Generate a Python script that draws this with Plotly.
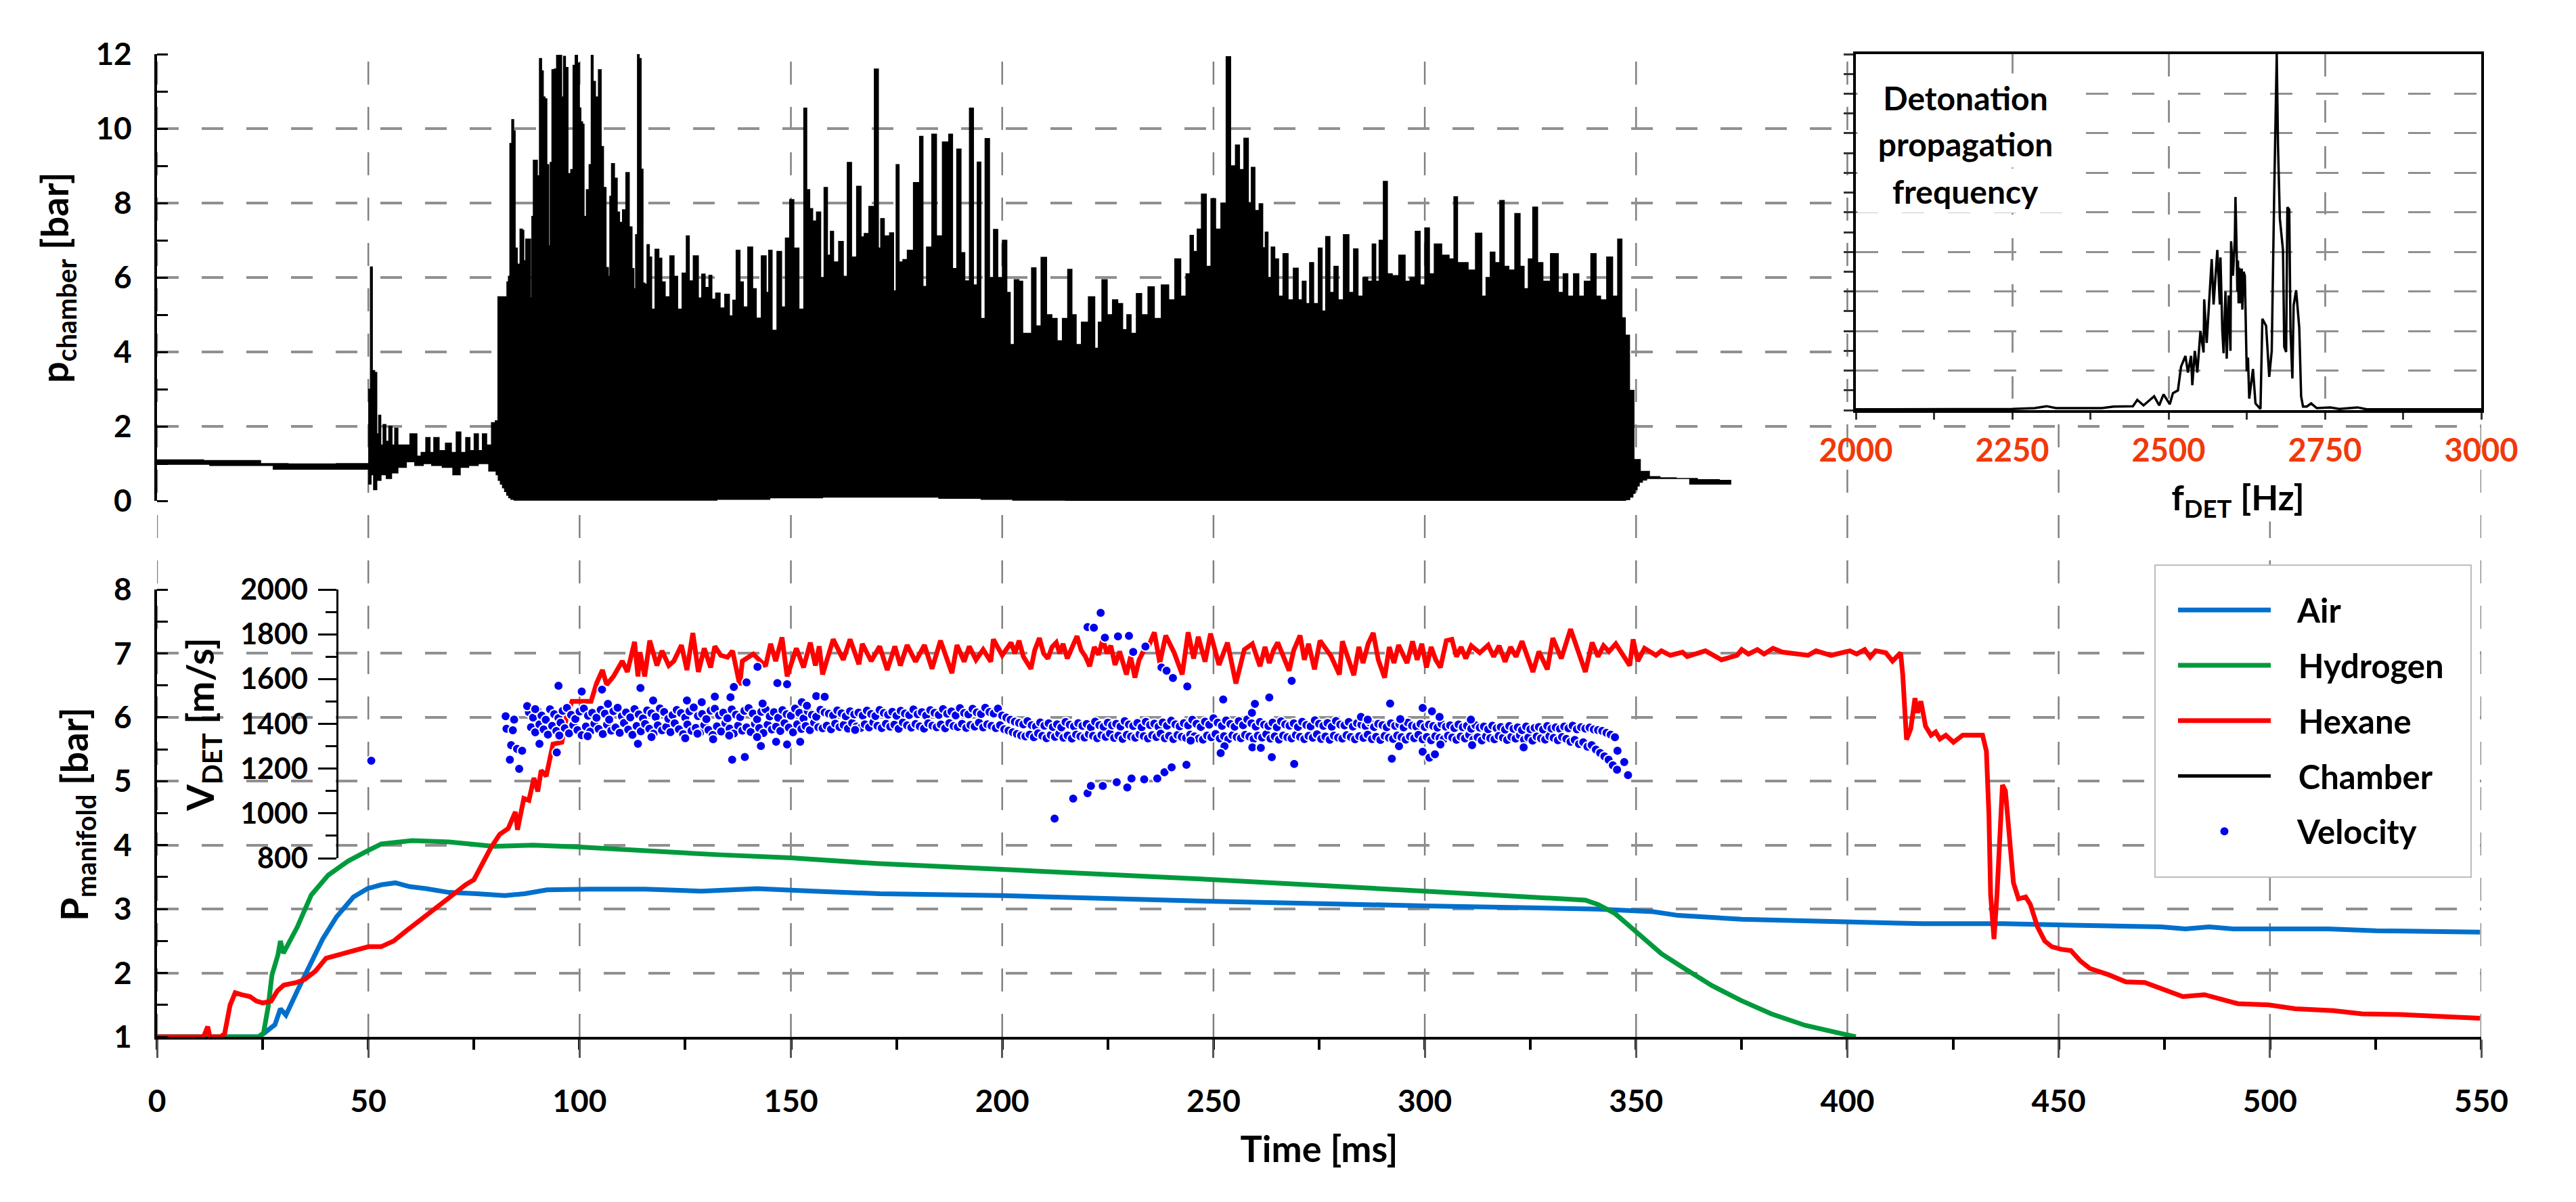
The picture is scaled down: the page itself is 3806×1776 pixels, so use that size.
import plotly.graph_objects as go

W, H = 3806, 1776
def fx(px): return px / W
def fy(py): return 1 - py / H

FONT = "Lato"
BLUE, GREEN, RED, VEL = "#0070CC", "#009A3D", "#FF0000", "#0000EE"
ORANGE = "#F03A0C"
GRID = "#909090"
PAD = "\u00a0\u00a0\u00a0"

x_ticks = [0, 50, 100, 150, 200, 250, 300, 350, 400, 450, 500, 550]
series_names = ["Air", "Hydrogen", "Hexane", "Chamber", "Velocity"]

# chamber pressure: upper and lower envelope of the oscillating signal
ch_up_t = [0,22,27,35,49.9,50.3,50.7,51.2,51.8,52.2,52.7,53.2,53.8,54.5,55.2,56,56.5,57.5,58.7,61,62,63,64.2,65,66,67.5,69,70.3,71.3,72.5,73.6,74.5,75.6,76.5,77.5,78.5,79.8,80.3,
81.05,82.6,83,83.3,83.7,84.2,84.6,84.9,85.6,86.2,86.7,86.9,87.6,88.2,88.6,88.8,89.3,89.8,90.2,90.8,91.2,91.6,92,92.5,92.9,93.2,93.7,94.3,94.8,95.5,96,96.4,96.9,97.6,98.2,98.7,99.2,99.8,100.1,100.5,100.9,101.2,102,102.5,103,103.4,104.1,104.8,105.4,105.9,106.6,107,107.3,107.8,108.7,109.1,109.8,110.5,111.4,112.1,112.7,113,113.5,113.9,114.3,114.8,115.2,115.7,116.2,116.8,117.3,118.4,119.1,119.8,120.7,122,122.7,123.7,124.8,125.7,126.2,127.6,128.6,129.2,130.2,131,131.6,132.8,133.7,135,135.9,136.6,137.5,138.4,139.1,140.5,141.4,142.2,143.8,144.5,145,146.1,147.3,148.3,149.1,150.3,151.1,152.7,153.4,154.1,154.8,155.5,156.6,157.5,158.2,159.1,159.6,160.6,162,162.8,163.9,164.8,166.3,166.9,167.8,169.1,170.4,171,171.5,172.7,174,174.6,175.2,176,177,178.1,179.9,181,181.5,182.7,184,184.9,186.8,187.9,188.6,189.9,190.6,191.7,
192.8,193.6,194.6,195.3,196.6,197.4,198.5,199.4,200.7,201.5,202.3,203.4,204.5,205.2,206.3,207.6,208.4,210,211,212.5,213.5,215,216,217,218,219.5,221.3,222.5,223,224.2,225.5,226.7,228,229,230,231,232.5,233.5,235.5,236.5,238.8,240,241.7,242.8,244.2,244.7,245.8,246.5,247.8,248.8,250,251,252.5,253.5,254.6,255.8,256.5,257.9,258.6,259.3,260.3,261.3,262,262.5,263.3,264,265,265.8,267.1,268.2,269.6,270.5,271.5,272.3,273.2,274.2,275.4,276,277.1,278,279,280,281.5,282.6,283.7,284.7,286,287,288.1,288.7,289.7,290.7,291.6,293,294.7,296,297,298.5,299.3,300.7,301.5,303,305,306.5,307.3,308.2,309.5,311,313,314,315,316,317.2,318.3,319.3,320.5,322.1,323,324,325,326.1,327.3,328.6,330.9,332.3,333.2,334.5,335.9,337,338.5,340.1,341,342.2,343.9,345,346.3,347,347.9,349,350,352,354.3,357,362,367,372.4]
ch_up_v = [1.1,1.08,1.0,0.99,1.0,3,6.28,3.5,3.45,1.8,2.3,1.5,2.05,1.6,2.0,1.5,1.95,1.5,1.5,1.8,1.2,1.3,1.7,1.3,1.7,1.35,1.55,1.3,1.85,1.3,1.7,1.35,1.8,1.35,1.8,1.5,2.1,2.15,
5.48,5.48,5.88,6.03,9.6,10.24,9.94,6.79,6.36,7.3,7.27,6.45,7.03,7.03,5.45,7.64,9.15,9.15,8.73,11.88,11.55,10.85,10.8,9.03,6.85,9.09,11.58,11.6,11.97,11.97,10.85,11.94,11.64,8.79,8.9,11.7,11.97,11.76,10.55,10.18,10.12,7.64,8.36,9.03,11.97,11.27,10.85,11.58,9.52,8.42,6.27,6.03,8.18,9.06,8.67,7.76,7.48,7.82,8.82,7.36,6.24,5.7,7.15,12,11.88,8.91,5.85,5.82,6.88,6.55,5.15,6.76,6.52,5.88,5.48,6.58,6.03,5.15,6.12,7.12,5.91,6.58,5.45,6.09,5.73,6.06,5.42,5.58,5.18,5.55,4.97,5.39,6.73,5.88,5.21,6.82,5.7,4.91,6.58,5.6,6.73,4.58,6.7,5.21,7.06,8.09,6.79,5.15,10.55,8.36,7.85,7.52,7.76,6,8.42,6.6,7.24,6.42,6.97,6.03,9.09,6.55,8.45,7.09,7.18,7.91,11.6,6.79,7.58,7.12,7.2,5.64,9.03,6.42,6.48,6.73,8.55,9.79,5.76,6.82,9.85,7.12,9.64,9.85,6.24,9.45,6.67,5.91,
10.55,5.8,9.1,4.9,9.73,6.0,7.29,6.0,7.0,5.6,4.2,5.94,5.9,4.5,4.5,6.26,4.7,6.54,5,4.9,4.3,4.9,6.22,5.0,4.2,4.8,5.48,4.1,4.8,5.94,5.0,5.4,5.3,4.6,5.0,4.5,5.57,5,5.75,4.9,5.8,5.4,6.5,5.5,6.1,7.13,6.7,7.3,8.24,6.3,8.12,7.3,8,11.93,9.0,9.56,8.9,9.74,8.0,8.96,7.8,7.98,6.8,7.22,6.0,6.82,6.5,5.5,6.64,5.4,6.25,5.4,5.9,5.3,6.4,5.3,6.79,5.1,7.1,5.6,6.3,5.4,7.15,5.6,6.77,5.5,6,5.9,6.9,5.9,7,8.58,6.1,6.05,6.6,5.9,6,7.24,5.8,7.33,6.1,6.9,6.6,6.5,8.17,6.4,6.4,6.2,7.19,5.5,6,6.68,6.4,8.07,6.3,6.2,7.72,6.3,5.7,6.5,7.89,6.4,5.9,6.64,5.6,6.1,5.5,6.1,5.5,5.9,6.64,5.5,5.4,6.55,5.5,7.03,4.92,4.45,2.97,1.11,0.79,0.65,0.62,0.6,0.57,0.55]
ch_lo_t = [0,25,30,49.9,50.3,51,51.5,52.5,53.5,55,56,58,60,62,64,66,69,71,72.5,75,77,80,80.5,81,81.5,82,82.5,83,83.5,84,85,100,115,125,140,150,165,180,190,200,205,225,250,300,347,348,349,349.5,350,350.5,351,352,353,372.4]
ch_lo_v = [0.98,0.95,0.85,0.85,0.45,0.7,0.3,0.55,0.7,0.6,0.75,0.9,1.05,0.95,1.0,0.95,0.9,0.7,0.9,0.95,1.0,0.8,0.7,0.55,0.45,0.35,0.25,0.15,0.08,0.04,0.02,0.02,0.02,0.02,0.04,0.08,0.1,0.1,0.07,0.04,0.02,0.0,0.0,0.0,0.0,0.03,0.1,0.2,0.3,0.4,0.5,0.56,0.6,0.45]

# manifold pressures
air_t = [0,24,25.2,27.9,29.2,30.5,33.2,35.9,39.2,42.5,46.5,49.8,53.1,56.4,59.8,63.7,69.1,75.7,82.3,87,92.3,102.3,115.5,128.8,142,155.4,171,200,250,300,341,354,360,375,395.3,417.9,437,449.5,474.3,480,485.6,491.3,513.8,525.1,549.7]
air_v = [1,1,1.05,1.19,1.44,1.34,1.72,2.07,2.53,2.88,3.19,3.32,3.38,3.41,3.35,3.32,3.26,3.24,3.21,3.24,3.3,3.31,3.31,3.28,3.32,3.28,3.24,3.21,3.12,3.05,3.0,2.96,2.9,2.84,2.8,2.77,2.77,2.75,2.72,2.69,2.72,2.69,2.69,2.66,2.64]
h2_t = [0,24,25.2,26.3,27.2,28.6,29.2,29.9,33.2,36.5,40.5,45.2,49.8,53.1,60.4,69.1,79.7,89,100,115.5,132.8,150,170.8,200,250,300,338,341,345,348,351,356,361.2,368,374.8,382,390,395.3,402]
h2_v = [1,1,1.06,1.47,1.97,2.28,2.5,2.31,2.72,3.22,3.53,3.75,3.91,4.02,4.07,4.05,3.98,4.0,3.97,3.91,3.85,3.8,3.71,3.62,3.46,3.28,3.14,3.07,2.93,2.76,2.59,2.3,2.08,1.8,1.57,1.36,1.18,1.1,1.0]
hex_t = [0,11,12,12.5,15,16,17.3,18.5,20,22,23.5,25,27,28.5,30,33,35,37.5,40,43,46.5,50,53,56,59,62,65,69,73,75,79,81.1,83.1,84.8,85.3,86.8,88,89.2,90.1,90.9,92.1,93.7,95.8,97,98.2,102.7,104,105.4,106.4,108,110.1,111.3,113,113.8,114.3,115.4,116.6,118.3,119.5,121.1,122.3,124.1,125.4,126.8,128.1,129.5,131,132,133.4,135,136.2,137.9,138.5,141.1,144,145.2,146.4,147.9,149.1,151.3,153,154.6,155.8,156.7,157.5,160,162.4,164,166.1,166.9,169,171,172.8,174.6,175.9,177.5,179.5,181.6,183.4,185.4,188.1,189.3,191,192.2,193.8,195.5,197.3,197.9,200,
202.1,203,204,205,206.8,207.7,208.8,209.8,210.8,211.8,212.8,213.6,214.4,215.4,216.5,217.7,218.7,219.7,220.7,221.8,222.8,223.8,224.8,225.7,226.7,227.8,228.6,229.4,230.4,231.4,232.4,233.4,234.7,236,237.3,238.7,240.7,242.6,244,245.3,246.4,248,249.3,251.3,253.3,255.3,257.3,259.2,261,262.2,263.2,264.2,265.2,267.9,269,270.5,271.5,272.5,273.9,275.2,277.8,279.8,280.5,283.2,284.4,285.4,286.6,287.8,289,290.5,291.6,292.7,293.8,295.8,297.1,298.2,299.3,300.4,301.5,302.6,303.7,305.1,306.4,307.5,308.6,309.7,311,313,315,316.3,317.6,319,320.3,321.6,323,325.6,327,329,330.3,332.3,334.5,338,339.6,341,342.3,343.6,345.2,346.9,348.5,349.3,350.4,352,354.7,356,358.1,361,362.1,366.4,370.2,373.9,375,376.6,378.7,380.3,382.4,384.6,390.7,392.6,396.1,400.6,402.2,404.1,405.4,406.7,409.1,410.7,412.6,413.1,413.7,414,415,416,416.6,417.4,418.5,419.8,420.9,421.9,423.3,425.1,427.3,430.3,432,432.9,433.5,433.9,434.7,435.4,436.2,436.7,437.4,438.2,439.3,440.5,442.2,443.3,445,446.7,448.4,450.6,452.9,455.1,457.4,461.9,465.9,470.4,474.3,479.4,484.5,487.9,492.4,499.7,506,515,521.8,530.8,539.8,549.7]
hex_v = [1,1,1.16,1,1,1.05,1.5,1.69,1.66,1.63,1.56,1.53,1.56,1.72,1.81,1.85,1.9,2.03,2.23,2.28,2.35,2.41,2.41,2.5,2.66,2.82,2.98,3.17,3.38,3.46,3.96,4.17,4.26,4.52,4.24,4.73,4.7,5.05,4.84,5.17,5.08,5.58,5.61,6.04,6.25,6.25,6.53,6.74,6.51,6.64,6.88,6.71,7.18,6.64,7.02,6.64,7.2,6.81,7.04,6.81,6.88,7.13,6.74,7.32,6.71,7.08,6.78,7.11,6.97,6.94,7.04,6.5,6.88,6.99,6.8,7.15,6.88,7.25,6.64,7.08,6.78,7.17,6.81,7.11,6.67,7.22,6.9,7.22,6.83,7.15,6.88,7.11,6.74,7.11,6.81,7.13,6.87,7.13,6.76,7.2,6.69,7.13,6.87,7.11,6.9,7.06,6.87,7.22,6.97,
7.17,7.0,7.2,6.95,6.76,7.05,7.24,7.0,6.92,7.1,7.17,7.0,7.15,6.92,7.1,7.27,7.05,6.95,6.8,7.1,6.98,7.22,7.0,7.12,6.82,7.03,6.85,6.67,6.95,6.62,6.9,7.03,7.12,7.33,6.85,7.28,7.01,6.67,7.33,6.92,7.26,6.87,7.31,6.82,7.17,6.53,7.06,7.15,6.8,7.1,6.85,7.05,7.17,6.73,7.05,7.28,6.9,7.15,6.75,7.2,6.96,6.67,7.19,6.66,7.1,6.85,7.15,7.32,6.9,6.62,7.1,6.85,7.13,6.85,7.19,6.9,7.15,6.78,7.1,6.9,6.78,7.2,7.22,6.95,7.1,6.92,7.12,7.01,7.13,6.95,7.12,6.87,7.1,6.95,7.19,6.71,7.03,6.75,7.24,6.92,7.38,6.71,7.17,6.95,7.12,7.03,7.15,6.96,6.81,7.22,6.88,7.08,6.97,7.04,6.97,7.02,6.95,7.04,6.9,6.97,7.06,6.99,7.06,6.99,7.08,7.02,6.97,7.04,6.97,7.04,6.99,7.06,6.94,7.04,7.01,6.88,7.01,6.67,6.0,5.65,5.82,6.3,6.07,6.25,5.86,5.72,5.77,5.66,5.72,5.61,5.72,5.72,5.72,5.47,4.47,3.22,2.53,3.22,4.47,4.94,4.85,4.16,3.41,3.16,3.19,3.07,2.72,2.5,2.41,2.37,2.35,2.19,2.07,1.97,1.86,1.85,1.75,1.63,1.66,1.6,1.52,1.5,1.44,1.41,1.36,1.35,1.32,1.29]

# detonation velocity: scattered points, main band (two interleaved rows, one point per ms each) and outliers
vel_out_t = [50.7,82.5,84.5,82.7,84.2,83.8,85.2,86.4,83.5,85.7,87.6,89.5,90.5,94.6,95.2,95,100.5,105.3,106.7,114.4,113.8,117.4,125.4,128.9,132,135.7,136.5,139.5,142.1,146.8,149.1,143.3,156,158,152.6,153.8,136.1,139.1,142.9,146.5,149.1,152.2,125,127.9,131.6,135.4,142,101.9,117,165.2,
223.3,220.2,221.7,224.3,227.4,230,233.9,231,237.7,238.9,240.4,243.8,268.5,263.2,259.8,252.3,259.1,291.8,299.5,301.7,303.5,310.9,284.9,286.5,294.2,212.4,216.8,220.2,221,223.8,227.1,229.6,230.6,233.6,236.7,238.4,240.1,243.6,244.6,252.6,251.7,259.2,261.2,263.8,269.1,292.2,293.9,299.5,301.1,302.4,303.7,311.2,323.4,345.6,347.2,348.1]
vel_out_v = [1235,1434,1419,1378,1371,1305,1288,1280,1240,1199,1479,1466,1311,1272,1348,1570,1544,1553,1489,1560,1311,1504,1504,1497,1522,1519,1565,1585,1655,1582,1577,1491,1524,1521,1497,1481,1240,1252,1301,1320,1308,1320,1336,1356,1331,1348,1341,1345,1341,1373,
1896,1832,1829,1785,1791,1793,1745,1721,1652,1637,1605,1567,1592,1518,1489,1509,1449,1491,1471,1456,1431,1419,1431,1419,1421,977,1066,1090,1123,1123,1139,1116,1156,1152,1156,1184,1206,1217,1325,1300,1269,1295,1293,1251,1221,1244,1300,1275,1249,1264,1308,1305,1295,1280,1229,1171]
vel_row_a_start = 88
vel_row_a = [1452,1428,1461,1437,1418,1465,1443,1426,1458,1471,1440,1422,1455,1468,1436,1449,1427,1463,1445,1419,1457,1472,1434,1451,1429,1466,1442,1424,1460,1447,1431,1469,1453,1423,1439,1462,1448,1428,1456,1473,1435,1444,1421,1459,1467,1438,1450,1425,1464,1441,1430,1458,1470,1446,1420,1454,1465,1433,1452,1427,1461,1443,1436,1468,1449,1424,1457,1440,1432,1463,1451,1445,1438,1460,1447,1434,1456,1442,1450,1437,1459,1444,1435,1462,1448,1441,1454,1436,1458,1446,1439,1464,1443,1452,1437,1461,1449,1440,1466,1445,1455,1438,1470,1448,1442,1467,1451,1444,1472,1453,1446,1468,
1437,1428,1418,1410,1404,1398,1412,1394,1388,1406,1392,1402,1386,1398,1384,1408,1396,1389,1403,1391,1399,1385,1410,1394,1387,1405,1393,1400,1388,1412,1397,1390,1404,1385,1409,1395,1401,1387,1406,1392,1414,1398,1389,1403,1393,1418,1400,1386,1410,1396,1425,1405,1391,1415,1399,1387,1412,1394,1420,1402,1388,1408,1396,1390,1405,1385,1411,1398,1392,1402,1386,1409,1395,1389,1416,1400,1391,1404,1387,1413,1397,1393,1408,1388,1403,1396,1390,1406,1386,1400,1394,1385,1402,1391,1398,1384,1405,1392,1388,1400,1386,1396,1390,1383,1399,1387,1393,1381,1397,1385,1391,1378,1394,1383,1388,1376,1392,1380,1386,1374,1390,1378,1384,1372,1388,1376,1382,1386,1375,1390,1379,1384,1377,1388,1380,1392,1376,1385,1379,1383,1375,1372,1368,1360,1352,1340]
vel_row_b_start = 88.5
vel_row_b = [1385,1362,1398,1375,1352,1391,1368,1405,1380,1358,1394,1372,1349,1388,1365,1401,1377,1355,1396,1370,1383,1360,1404,1374,1351,1390,1367,1399,1378,1356,1393,1371,1386,1363,1402,1376,1354,1397,1369,1382,1361,1395,1373,1350,1389,1366,1403,1379,1357,1392,1370,1384,1364,1400,1381,1359,1396,1375,1387,1368,1403,1383,1362,1398,1377,1390,1372,1405,1385,1380,1392,1376,1401,1386,1395,1379,1404,1388,1382,1398,1384,1407,1391,1381,1400,1387,1396,1378,1406,1393,1383,1399,1389,1379,1402,1392,1385,1397,1380,1403,1390,1386,1400,1382,1395,1388,1405,1384,1398,1391,1381,1394,
1376,1370,1362,1355,1348,1344,1352,1340,1358,1346,1336,1350,1342,1356,1338,1348,1334,1352,1344,1339,1354,1346,1336,1350,1342,1357,1337,1347,1333,1351,1343,1338,1353,1345,1335,1349,1341,1356,1336,1346,1332,1350,1342,1337,1352,1344,1334,1330,1348,1340,1355,1335,1345,1331,1349,1341,1336,1351,1343,1333,1347,1339,1354,1334,1344,1330,1348,1340,1335,1350,1342,1332,1346,1338,1353,1333,1343,1329,1347,1339,1334,1349,1341,1331,1345,1337,1352,1332,1342,1328,1346,1338,1333,1348,1340,1330,1344,1336,1351,1331,1341,1327,1345,1337,1332,1347,1339,1329,1343,1335,1350,1330,1340,1326,1344,1336,1331,1346,1338,1328,1342,1334,1349,1329,1339,1325,1343,1335,1330,1345,1337,1327,1341,1333,1320,1328,1310,1318,1298,1305,1285,1270,1255,1240,1215,1195]

# inset spectrum
spec_f = [2000,2200,2250,2286,2305,2320,2393,2412,2443,2450,2460,2477,2485,2492,2502,2507,2515,2520,2527,2531,2536,2538,2542,2546,2551,2556,2557,2561,2565,2569,2572,2578,2582,2583,2586,2588,2591,2593,2596,2599,2600,2603,2606,2607,2609,2610,2611,2612,2613,2615,2617,2618,2620,2622,2625,2627,2629,2635,2639,2647,2650,2656,2661,2665,2669,2673,2675,2678,2683,2685,2688,2690,2693,2695,2698,2700,2704,2709,2712,2715,2721,2728,2737,2759,2773,2802,2817,3000]
spec_a = [0.02,0.02,0.03,0.05,0.1,0.05,0.05,0.09,0.1,0.26,0.12,0.35,0.12,0.4,0.15,0.43,0.5,1.1,1.37,0.95,1.37,0.63,1.5,0.95,2.0,1.46,2.8,1.7,2.67,3.82,2.67,4.05,2.67,3.86,2.0,1.44,3.0,1.3,2.9,1.5,4.27,3.4,4.33,5.39,3.92,3.0,3.78,2.7,3.6,2.7,3.58,2.54,3.5,3.4,0.98,1.33,0.29,1.04,0.17,0.03,2.31,2.13,0.84,1.5,5.54,9.0,6.7,4.84,4.04,1.6,1.47,5.13,5.07,2.0,0.8,2.65,3.03,2.08,0.35,0.09,0.09,0.17,0.05,0.07,0.03,0.07,0.02,0.02]

X_L, X_R = 232, 3666
fig = go.Figure()

def line_trace(x, y, name, color, xa, ya, width=7):
    return go.Scatter(x=x, y=y, mode="lines", name=PAD + name, legendgroup=name, xaxis=xa, yaxis=ya,
                      line=dict(color=color, width=width))

fig.add_trace(line_trace(air_t, air_v, series_names[0], BLUE, "x2", "y2"))
fig.add_trace(line_trace(h2_t, h2_v, series_names[1], GREEN, "x2", "y2"))
fig.add_trace(line_trace(hex_t, hex_v, series_names[2], RED, "x2", "y2"))
# chamber envelope, legend entry separate so the key is a plain line
fig.add_trace(go.Scatter(x=ch_up_t + ch_lo_t[::-1], y=ch_up_v + ch_lo_v[::-1], mode="lines", fill="toself",
                         fillcolor="black", line=dict(color="black", width=1.5, shape="hvh"), showlegend=False,
                         xaxis="x", yaxis="y"))
fig.add_trace(go.Scatter(x=[None], y=[None], mode="lines", name=PAD + series_names[3], legendgroup=series_names[3],
                         line=dict(color="black", width=5), xaxis="x", yaxis="y"))

band = sorted([(vel_row_a_start + i, v) for i, v in enumerate(vel_row_a)] +
              [(vel_row_b_start + i, v) for i, v in enumerate(vel_row_b)])
vel_t = [p[0] for p in band] + vel_out_t
vel_v = [p[1] for p in band] + vel_out_v
fig.add_trace(go.Scatter(x=vel_t, y=vel_v, mode="markers", name=PAD + series_names[4], legendgroup=series_names[4],
                         marker=dict(color=VEL, size=14, line=dict(color="white", width=2)),
                         xaxis="x3", yaxis="y3"))

# white panel behind the inset (hides the main grid there)
fig.add_trace(go.Scatter(x=[0, 1, 1, 0], y=[0, 0, 1, 1], mode="none", fill="toself", fillcolor="white",
                         showlegend=False, hoverinfo="skip", xaxis="x4", yaxis="y4"))
fig.add_trace(go.Scatter(x=spec_f, y=spec_a, mode="lines", showlegend=False,
                         line=dict(color="black", width=3.5), xaxis="x5", yaxis="y5"))

tickf = dict(family=FONT, size=46, color="black", weight=700)
griddash = "32px,34px"
hidden_x = dict(visible=False, range=[0, 550], domain=[fx(X_L), fx(X_R)], fixedrange=True)

layout = dict(
    template="none",
    width=W, height=H, margin=dict(l=0, r=0, t=0, b=0, pad=0), autosize=False,
    paper_bgcolor="white", plot_bgcolor="rgba(0,0,0,0)",
    xaxis=dict(hidden_x, anchor="y"),
    yaxis=dict(domain=[fy(740), fy(80)], range=[0, 12], tickvals=[0, 2, 4, 6, 8, 10, 12], anchor="x", automargin=False,
               showline=True, linecolor="black", linewidth=4, ticks="", tickfont=tickf, ticklabelstandoff=24,
               showgrid=True, gridcolor=GRID, gridwidth=4, griddash=griddash, zeroline=False,
               minor=dict(ticks="inside", ticklen=16, tickwidth=3, tickcolor="black", dtick=1, tick0=0, showgrid=False)),
    xaxis2=dict(domain=[fx(X_L), fx(X_R)], range=[0, 550], tickvals=x_ticks, anchor="y2", automargin=False,
                showline=True, linecolor="black", linewidth=4, ticks="outside", ticklen=27, tickwidth=2.5, tickcolor="#555555",
                tickfont=tickf, ticklabelstandoff=25, showgrid=False, zeroline=False,
                title=dict(text="Time [ms]", standoff=28, font=dict(family=FONT, size=54, color="black", weight=700)),
                minor=dict(ticks="outside", ticklen=15, tickwidth=4, tickcolor="black", dtick=25, tick0=0, showgrid=False)),
    yaxis2=dict(domain=[fy(1532), fy(871)], range=[1, 8], tickvals=[1, 2, 3, 4, 5, 6, 7, 8], anchor="x2", automargin=False,
                showline=True, linecolor="black", linewidth=4, ticks="", tickfont=tickf, ticklabelstandoff=24,
                showgrid=True, gridcolor=GRID, gridwidth=4, griddash=griddash, zeroline=False,
                minor=dict(ticks="inside", ticklen=16, tickwidth=3, tickcolor="black", dtick=0.5, tick0=1, showgrid=False)),
    xaxis3=dict(hidden_x, anchor="y3"),
    yaxis3=dict(domain=[fy(1268), fy(871)], range=[800, 2000], tickvals=[800, 1000, 1200, 1400, 1600, 1800, 2000],
                anchor="free", position=fx(497.5), side="left", automargin=False,
                showline=True, linecolor="black", linewidth=3, ticks="outside", ticklen=27, tickwidth=3, tickcolor="black",
                tickfont=dict(tickf, size=43), ticklabelstandoff=6, showgrid=False, zeroline=False,
                minor=dict(ticks="outside", ticklen=16, tickwidth=3, tickcolor="black", dtick=100, tick0=0, showgrid=False)),
    xaxis4=dict(visible=False, range=[0, 1], domain=[fx(2742), fx(X_R)], anchor="y4", fixedrange=True),
    yaxis4=dict(visible=False, range=[0, 1], domain=[fy(606), fy(80)], anchor="x4", fixedrange=True),
    xaxis5=dict(domain=[fx(2742), fx(X_R)], range=[2000, 3000], tickvals=[2000, 2250, 2500, 2750, 3000], anchor="y5", automargin=False,
                showline=True, mirror=True, linecolor="black", linewidth=4, ticks="outside", ticklen=10, tickwidth=3, tickcolor="#333333",
                tickfont=dict(tickf, size=47, color=ORANGE), ticklabelstandoff=6,
                showgrid=True, gridcolor=GRID, gridwidth=2.5, griddash="33px,35px", zeroline=False,
                minor=dict(ticks="outside", ticklen=10, tickwidth=3, tickcolor="#333333", dtick=125, tick0=2000, showgrid=False)),
    yaxis5=dict(domain=[fy(606), fy(80)], range=[0, 9], tickvals=list(range(0, 10)), anchor="x5", automargin=False,
                showline=True, mirror=True, linecolor="black", linewidth=4, ticks="outside", ticklen=14, tickwidth=3, tickcolor="#333333",
                showticklabels=False, showgrid=True, gridcolor=GRID, gridwidth=3, griddash="33px,35px", zeroline=False,
                minor=dict(ticks="outside", ticklen=14, tickwidth=3, tickcolor="#333333", dtick=0.5, tick0=0, showgrid=False)),
    legend=dict(x=fx(3213), y=fy(863), xanchor="left", yanchor="top", bgcolor="rgba(0,0,0,0)", borderwidth=0,
                font=dict(family=FONT, size=49, color="black", weight=700), itemwidth=137, tracegroupgap=15,
                traceorder="grouped", itemclick=False, itemdoubleclick=False),
    showlegend=True,
)
fig.update_layout(**layout)

# vertical grid spans both panels
shapes = []
for t in x_ticks:
    start = 761 if t == 500 else 91
    shapes.append(dict(type="line", xref="x", yref="paper", x0=t, x1=t, y0=fy(start), y1=fy(1559), layer="below",
                       line=dict(color="#808080", width=2.5, dash="34px,33px")))
# legend frame
shapes.append(dict(type="rect", xref="paper", yref="paper", x0=fx(3184), x1=fx(3651), y0=fy(835), y1=fy(1296),
                   layer="above", fillcolor="white", line=dict(color="#BDBDBD", width=2)))
fig.update_layout(shapes=shapes)

def note(text, x, y, size=50, angle=0, **kw):
    base = dict(text=text, xref="paper", yref="paper", x=fx(x), y=fy(y), showarrow=False, textangle=angle,
                xanchor="center", yanchor="middle", font=dict(family=FONT, size=size, color="black", weight=700))
    base.update(kw)
    return base

anns = [
    note("p<sub>chamber</sub> [bar]", 83, 410, size=56, angle=-90),
    note("P<sub>manifold</sub> [bar]", 112, 1203, size=56, angle=-90),
    note("V<sub>DET</sub> [m/s]", 298, 1071, size=56, angle=-90),
    note("f<sub>DET</sub> [Hz]", 3306, 738, size=52, bgcolor="white", width=247, height=62),
    note("Detonation", 2904, 144, size=48, bgcolor="white", width=316, height=68),
    note("propagation", 2904, 212, size=48, bgcolor="white", width=316, height=68),
    note("frequency", 2904, 282, size=48, bgcolor="white", width=316, height=62),
]
fig.update_layout(annotations=anns)

fig.write_html("out.html", config={"displayModeBar": False}, post_script="document.body.style.margin='0';")
